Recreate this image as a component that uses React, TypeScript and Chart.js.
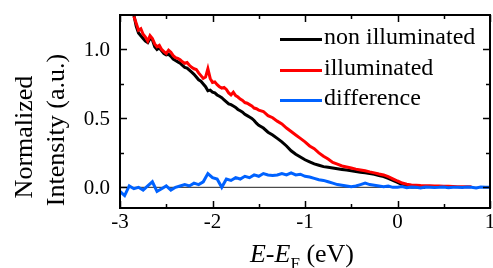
import React, { useEffect, useRef, useState } from "react";
import { Chart, registerables } from "chart.js";
Chart.register(...registerables);

// ---- data ----
const energyIlluminated = [-2.85,-2.825,-2.8,-2.775,-2.75,-2.725,-2.7,-2.675,-2.65,-2.625,-2.6,-2.575,-2.55,-2.525,-2.5,-2.475,-2.45,-2.425,-2.4,-2.375,-2.35,-2.325,-2.3,-2.275,-2.25,-2.225,-2.2,-2.175,-2.15,-2.125,-2.1,-2.075,-2.05,-2.025,-2,-1.975,-1.95,-1.925,-1.9,-1.875,-1.85,-1.825,-1.8,-1.775,-1.75,-1.725,-1.7,-1.675,-1.65,-1.625,-1.6,-1.575,-1.55,-1.525,-1.5,-1.45,-1.4,-1.35,-1.3,-1.25,-1.2,-1.15,-1.1,-1.05,-1,-0.95,-0.9,-0.85,-0.8,-0.75,-0.7,-0.65,-0.6,-0.55,-0.5,-0.45,-0.4,-0.35,-0.3,-0.25,-0.2,-0.15,-0.1,-0.05,0,0.05,0.1,0.15,0.2,0.25,0.3,0.35,0.4,0.45,0.5,0.55,0.6,0.65,0.7,0.75,0.8];
const illuminated = [1.24,1.19,1.14,1.15,1.11,1.09,1.06,1.1,1.08,1.04,1.02,1.03,1.0,0.985,0.97,0.995,0.98,0.955,0.94,0.935,0.925,0.91,0.9,0.905,0.885,0.87,0.86,0.855,0.83,0.81,0.79,0.8,0.86,0.79,0.76,0.765,0.745,0.73,0.72,0.725,0.71,0.685,0.67,0.69,0.665,0.655,0.64,0.63,0.615,0.61,0.6,0.59,0.575,0.57,0.56,0.55,0.52,0.505,0.48,0.46,0.43,0.405,0.38,0.355,0.33,0.3,0.28,0.25,0.225,0.205,0.18,0.168,0.155,0.148,0.14,0.132,0.126,0.12,0.112,0.105,0.097,0.09,0.077,0.062,0.046,0.031,0.022,0.017,0.015,0.013,0.012,0.011,0.01,0.009,0.008,0.007,0.006,0.005,0.005,0.004,0.004];

const energyNonIlluminated = [-2.85,-2.825,-2.8,-2.775,-2.75,-2.725,-2.7,-2.675,-2.65,-2.625,-2.6,-2.575,-2.55,-2.525,-2.5,-2.475,-2.45,-2.425,-2.4,-2.375,-2.35,-2.325,-2.3,-2.275,-2.25,-2.225,-2.2,-2.175,-2.15,-2.125,-2.1,-2.075,-2.05,-2.025,-2,-1.975,-1.95,-1.925,-1.9,-1.875,-1.85,-1.825,-1.8,-1.775,-1.75,-1.725,-1.7,-1.675,-1.65,-1.625,-1.6,-1.575,-1.55,-1.525,-1.5,-1.45,-1.4,-1.35,-1.3,-1.25,-1.2,-1.15,-1.1,-1.05,-1,-0.95,-0.9,-0.85,-0.8,-0.75,-0.7,-0.65,-0.6,-0.55,-0.5,-0.45,-0.4,-0.35,-0.3,-0.25,-0.2,-0.15,-0.1,-0.05,0,0.05,0.1,0.15,0.2,0.25,0.3];
const nonIlluminated = [1.25,1.17,1.12,1.1,1.08,1.06,1.05,1.08,1.07,1.02,1.0,1.01,0.99,0.97,0.96,0.965,0.95,0.93,0.92,0.91,0.9,0.885,0.87,0.865,0.85,0.835,0.82,0.8,0.78,0.77,0.75,0.73,0.7,0.705,0.69,0.685,0.67,0.66,0.65,0.635,0.62,0.605,0.6,0.59,0.58,0.565,0.555,0.545,0.53,0.52,0.51,0.5,0.485,0.465,0.45,0.43,0.4,0.38,0.355,0.33,0.3,0.265,0.24,0.22,0.2,0.185,0.17,0.16,0.15,0.145,0.14,0.135,0.13,0.125,0.12,0.115,0.11,0.105,0.1,0.095,0.085,0.078,0.065,0.05,0.035,0.02,0.008,0.003,0.002,0.001,0.001];

const energyDifference = [-3,-2.95,-2.9,-2.85,-2.8,-2.75,-2.7,-2.65,-2.6,-2.55,-2.5,-2.45,-2.4,-2.35,-2.3,-2.25,-2.2,-2.15,-2.1,-2.05,-2,-1.95,-1.9,-1.85,-1.8,-1.75,-1.7,-1.65,-1.6,-1.55,-1.5,-1.45,-1.4,-1.35,-1.3,-1.25,-1.2,-1.15,-1.1,-1.05,-1,-0.95,-0.9,-0.85,-0.8,-0.75,-0.7,-0.65,-0.6,-0.55,-0.5,-0.45,-0.4,-0.35,-0.3,-0.25,-0.2,-0.15,-0.1,-0.05,0,0.05,0.1,0.15,0.2,0.25,0.3,0.35,0.4,0.45,0.5,0.55,0.6,0.65,0.7,0.75,0.8,0.85,0.9,0.95,1];
const difference = [-0.03,-0.06,0.01,-0.01,0,-0.02,0.01,0.04,-0.03,-0.01,0.01,-0.02,0,0.01,0.02,0.01,0.03,0.02,0.04,0.1,0.07,0.06,0,0.06,0.05,0.07,0.06,0.08,0.07,0.09,0.08,0.1,0.09,0.085,0.09,0.1,0.09,0.105,0.09,0.095,0.08,0.075,0.065,0.055,0.05,0.04,0.03,0.02,0.015,0.01,0.005,0.01,0.02,0.03,0.02,0.015,0.01,0.005,0.01,0,0,0.005,-0.003,0.002,0,-0.004,0.003,0.001,-0.002,0,0.003,-0.003,0.001,0,-0.002,0.002,0,-0.004,0.002,0,0.001];

const baselineEnergy = [-3, 1];
const baselineValue = [0, 0];

const xMajorTicks = [-3, -2, -1, 0, 1];
const xMinorTicks = [-2.5, -1.5, -0.5, 0.5];
const yMajorTicks = [0, 0.5, 1.0];
const yMinorTicks = [0.25, 0.75];
const xTickLabels = ["-3", "-2", "-1", "0", "1"];
const yTickLabels = ["0.0", "0.5", "1.0"];

const seriesNames = ["non illuminated", "illuminated", "difference"];
const seriesColors = ["#000000", "#ff0000", "#0062ff"];

const FAMILY = '"Liberation Serif", "Times New Roman", serif';
// baseline offset from the top of a line box whose line-height equals the font size
const BASE = 0.8375;

const toPoints = (xs: number[], ys: number[]) => xs.map((x, i) => ({ x, y: ys[i] }));

type TickPos = { x: number[]; y: number[]; bottom: number; left: number };

export default function App() {
  const ref = useRef<HTMLCanvasElement>(null);
  const [pos, setPos] = useState<TickPos | null>(null);

  useEffect(() => {
    document.body.style.margin = "0";
    const canvas = ref.current!;

    const framePlugin = {
      id: "frame",
      afterDatasetsDraw(ch: any) {
        const { ctx, chartArea: a, scales } = ch;
        const xs = scales.x;
        const ys = scales.y;
        ctx.save();
        ctx.strokeStyle = "#000";
        ctx.lineWidth = 1.5;
        ctx.beginPath();
        const vTick = (v: number, len: number) => {
          const p = Math.round(xs.getPixelForValue(v)) + 0.5;
          ctx.moveTo(p, a.bottom);
          ctx.lineTo(p, a.bottom - len);
          ctx.moveTo(p, a.top);
          ctx.lineTo(p, a.top + len);
        };
        const hTick = (v: number, len: number) => {
          const p = Math.round(ys.getPixelForValue(v)) + 0.5;
          ctx.moveTo(a.left, p);
          ctx.lineTo(a.left + len, p);
          ctx.moveTo(a.right, p);
          ctx.lineTo(a.right - len, p);
        };
        xMajorTicks.forEach((v) => vTick(v, 7));
        xMinorTicks.forEach((v) => vTick(v, 4));
        yMajorTicks.forEach((v) => hTick(v, 7));
        yMinorTicks.forEach((v) => hTick(v, 4));
        ctx.stroke();
        ctx.lineWidth = 2;
        ctx.strokeRect(a.left, a.top, a.right - a.left, a.bottom - a.top);
        ctx.restore();
      },
    };

    const chart = new Chart(canvas, {
      type: "line",
      data: {
        datasets: [
          { label: "zero", data: toPoints(baselineEnergy, baselineValue), borderColor: "#222", borderWidth: 1, pointRadius: 0, order: 4 },
          { label: seriesNames[0], data: toPoints(energyNonIlluminated, nonIlluminated), borderColor: seriesColors[0], borderWidth: 3, pointRadius: 0, order: 3 },
          { label: seriesNames[1], data: toPoints(energyIlluminated, illuminated), borderColor: seriesColors[1], borderWidth: 3, pointRadius: 0, order: 2 },
          { label: seriesNames[2], data: toPoints(energyDifference, difference), borderColor: seriesColors[2], borderWidth: 3, pointRadius: 0, order: 1 },
        ],
      },
      options: {
        animation: false,
        responsive: false,
        devicePixelRatio: 1,
        layout: { padding: { top: 15, right: 3, left: 0, bottom: 0 } },
        plugins: { legend: { display: false }, tooltip: { enabled: false } },
        datasets: { line: { clip: 0 } } as any,
        scales: {
          x: {
            type: "linear",
            min: -3,
            max: 1,
            grid: { display: false, drawTicks: false },
            border: { display: false },
            ticks: { display: false },
            afterBuildTicks: (s: any) => {
              s.ticks = xMajorTicks.map((value) => ({ value }));
            },
            afterFit: (s: any) => {
              s.height = 60;
            },
          },
          y: {
            type: "linear",
            min: -0.15,
            max: 1.25,
            grid: { display: false, drawTicks: false },
            border: { display: false },
            ticks: { display: false },
            afterBuildTicks: (s: any) => {
              s.ticks = yMajorTicks.map((value) => ({ value }));
            },
            afterFit: (s: any) => {
              s.width = 120;
            },
          },
        },
      },
      plugins: [framePlugin],
    });

    const xs: any = chart.scales.x;
    const ys: any = chart.scales.y;
    setPos({
      x: xMajorTicks.map((v) => xs.getPixelForValue(v)),
      y: yMajorTicks.map((v) => ys.getPixelForValue(v)),
      bottom: chart.chartArea.bottom,
      left: chart.chartArea.left,
    });
    return () => chart.destroy();
  }, []);

  const textBase: React.CSSProperties = {
    position: "absolute",
    fontFamily: FAMILY,
    color: "#000",
    whiteSpace: "nowrap",
  };
  const tickSize = 21;
  const legendSize = 24;
  const titleSize = 26;
  const legendRows = [39, 70, 100];

  return (
    <div style={{ position: "relative", width: 493, height: 268, overflow: "hidden" }}>
      <canvas ref={ref} width={493} height={268} style={{ position: "absolute", left: 0, top: 0 }} />

      {pos &&
        pos.x.map((px, i) => (
          <div
            key={"xt" + i}
            style={{ ...textBase, fontSize: tickSize, lineHeight: tickSize + "px", left: px - 30, width: 60, textAlign: "center", top: pos.bottom + 21 - BASE * tickSize }}
          >
            {xTickLabels[i]}
          </div>
        ))}
      {pos &&
        pos.y.map((py, i) => (
          <div
            key={"yt" + i}
            style={{ ...textBase, fontSize: tickSize, lineHeight: tickSize + "px", left: pos.left - 10 - 60, width: 60, textAlign: "right", top: py + 7 - BASE * tickSize }}
          >
            {yTickLabels[i]}
          </div>
        ))}

      {/* legend */}
      {seriesNames.map((name, i) => (
        <React.Fragment key={"lg" + i}>
          <div style={{ position: "absolute", left: 280, width: 42, top: legendRows[i] - 1.5, height: 3, background: seriesColors[i] }} />
          <div style={{ ...textBase, fontSize: legendSize, lineHeight: legendSize + "px", left: 324, top: legendRows[i] + 5 - BASE * legendSize }}>
            {name}
          </div>
        </React.Fragment>
      ))}

      {/* x title */}
      <div style={{ ...textBase, fontSize: titleSize, lineHeight: titleSize + "px", left: 202, width: 200, textAlign: "center", top: 263 - BASE * titleSize }}>
        <i>E</i>-<i>E</i>
        <span style={{ fontSize: 17, position: "relative", top: 7 }}>F</span> (eV)
      </div>

      {/* y title */}
      {[
        ["Normalized", 33, 137],
        ["Intensity (a.u.)", 65, 130],
      ].map(([t, bx, cy]: any, i) => (
        <div
          key={"yl" + i}
          style={{
            ...textBase,
            fontSize: titleSize,
            lineHeight: titleSize + "px",
            width: 220,
            height: titleSize,
            textAlign: "center",
            left: bx - (BASE * titleSize - titleSize / 2) - 110,
            top: cy - titleSize / 2,
            transform: "rotate(-90deg)",
            transformOrigin: "50% 50%",
          }}
        >
          {t}
        </div>
      ))}
    </div>
  );
}
